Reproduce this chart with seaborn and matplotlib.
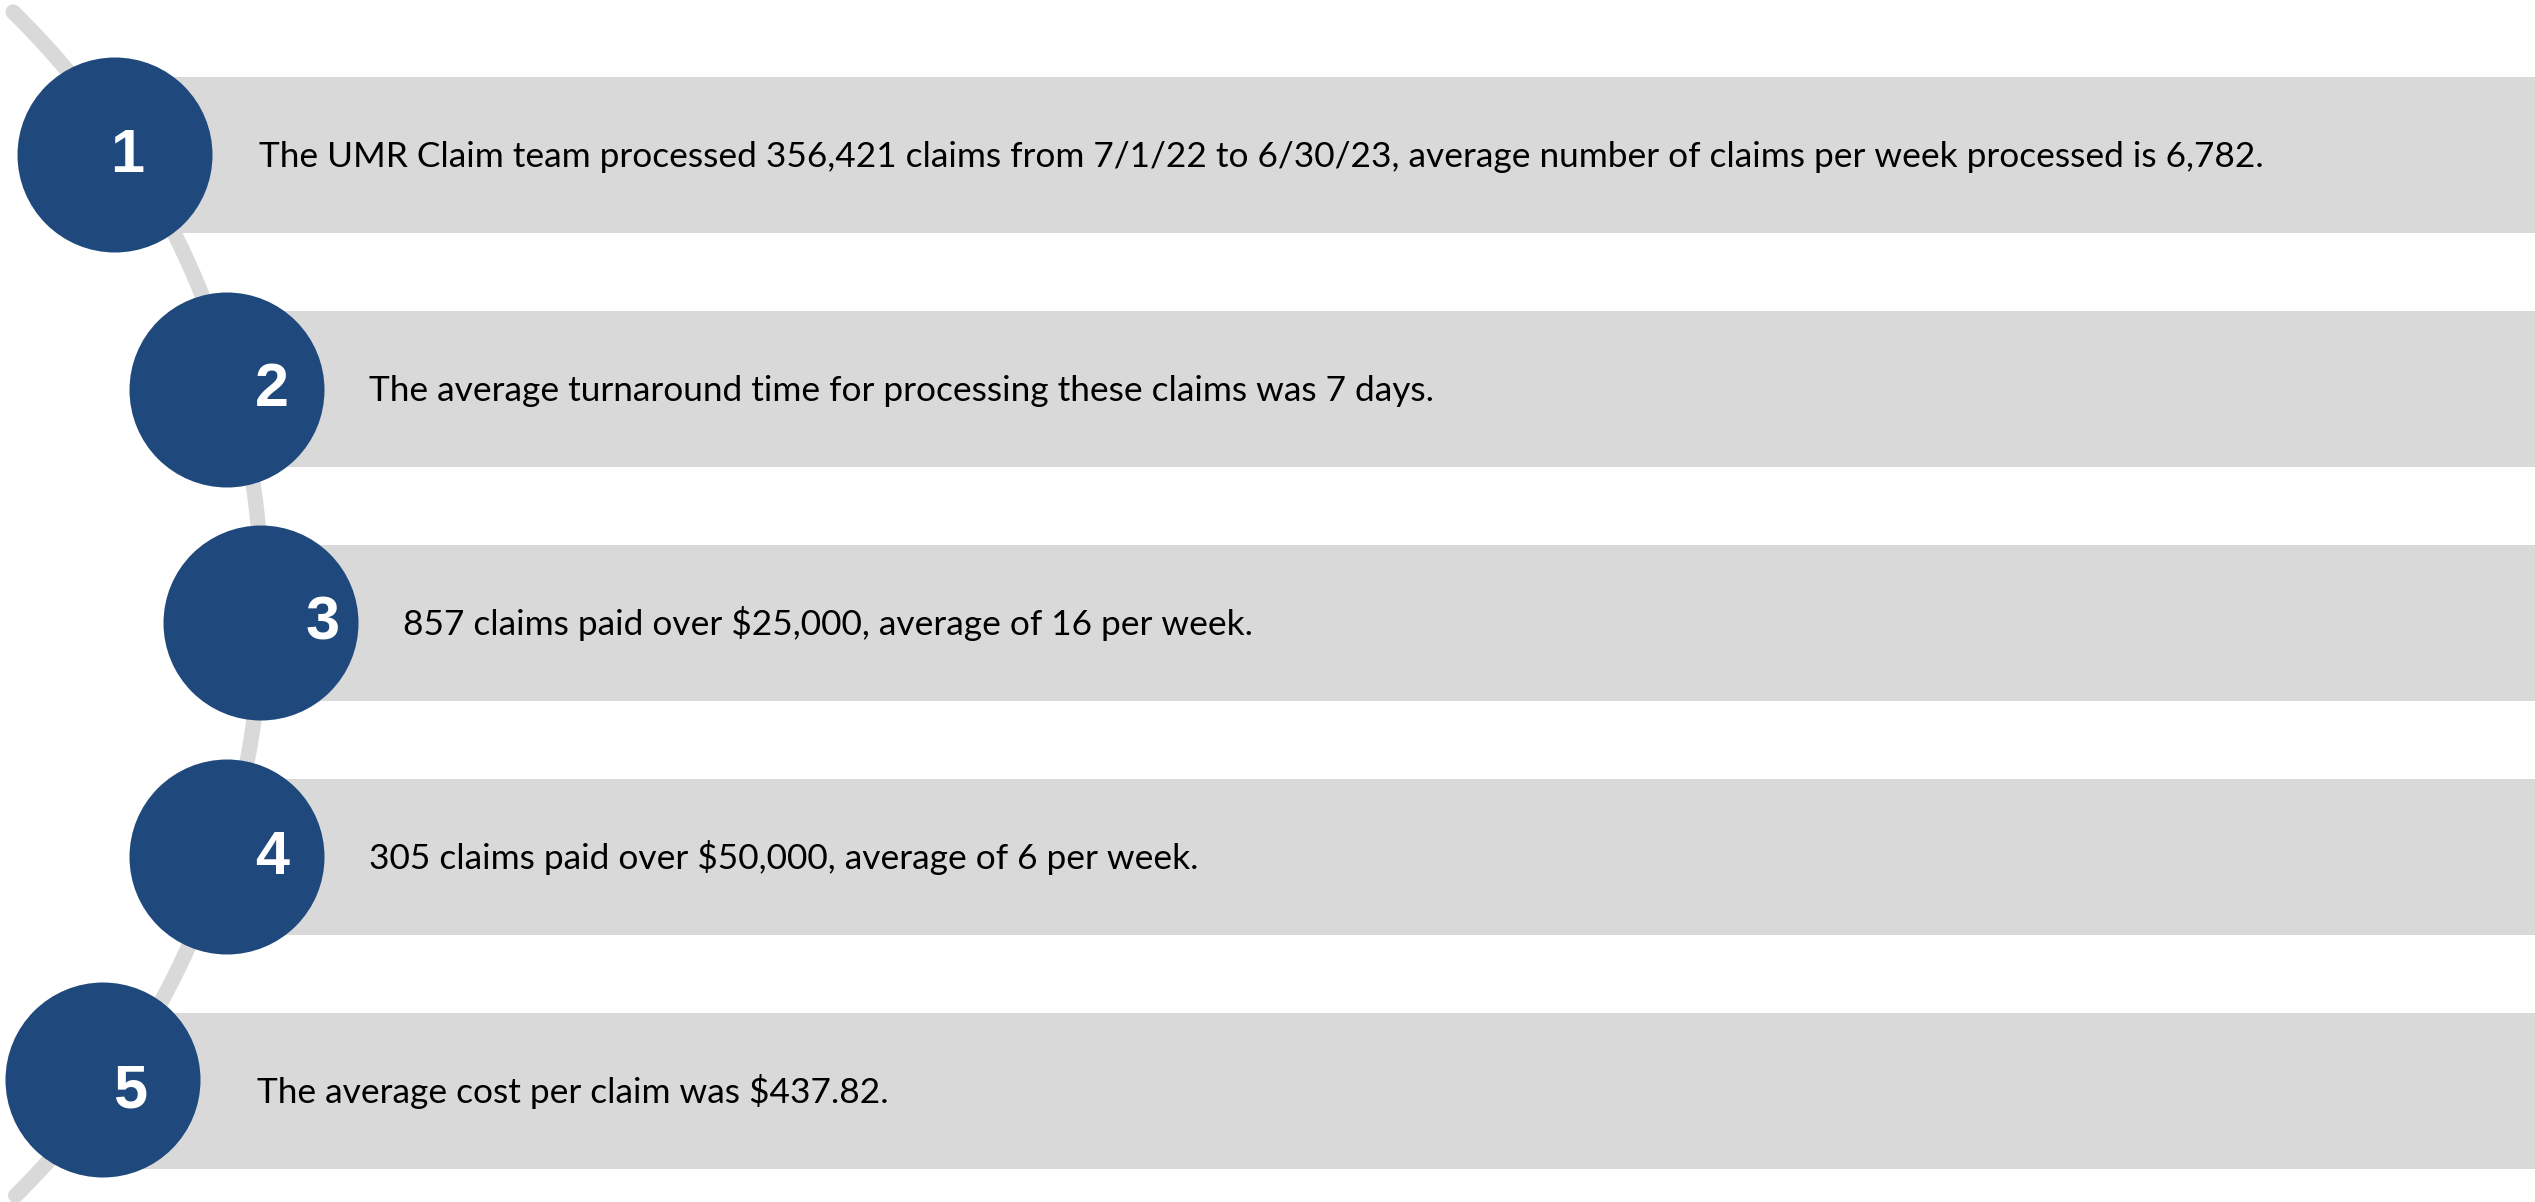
import matplotlib
matplotlib.use("Agg")
import matplotlib.pyplot as plt
from matplotlib.patches import Ellipse
import numpy as np
import pandas as pd
import seaborn as sns

# Steps and statements shown in the chart
steps = ["1", "2", "3", "4", "5"]
statements = [
    "The UMR Claim team processed 356,421 claims from 7/1/22 to 6/30/23, average number of claims per week processed is 6,782.",
    "The average turnaround time for processing these claims was 7 days.",
    "857 claims paid over $25,000, average of 16 per week.",
    "305 claims paid over $50,000, average of 6 per week.",
    "The average cost per claim was $437.82.",
]

# Layout, in pixels (one row = 234 px, first row centred at 155 px)
W, H = 2535, 1202
row_px = 234
top_px = 155
circle_x = [115, 227, 261, 227, 103]
circle_dy = [0, 1, 0, 0, -11]
number_x = [127, 272, 323, 272, 130]
text_x = [259, 369, 403, 369, 257]
circle_d = 195
bar_h = 156

navy = "#1F497D"
grey = "#D9D9D9"


def to_row(p):
    # pixel height -> row units used by the categorical axis
    return (p - top_px) / row_px


sns.set_style("white")
fig = plt.figure(figsize=(W / 100, H / 100), dpi=100)
ax = fig.add_axes([0, 0, 1, 1])

# background arc
theta = np.linspace(np.arctan2(12 - 605, 13 + 569), np.arctan2(1197 - 605, 17 + 569), 300)
arc_x = -569 + 831 * np.cos(theta)
arc_y = to_row(605 + 831 * np.sin(theta))
ax.plot(arc_x, arc_y, color=grey, lw=11, solid_capstyle="round", zorder=0)

# grey bars
df = pd.DataFrame({"step": steps, "length": [W - cx for cx in circle_x]})
sns.barplot(data=df, x="length", y="step", order=steps, orient="h",
            width=bar_h / row_px, color=grey, saturation=1, errorbar=None,
            left=circle_x, linewidth=0, ax=ax, zorder=1)

for i, step in enumerate(steps):
    ax.add_patch(Ellipse((circle_x[i], i + circle_dy[i] / row_px), circle_d,
                         circle_d / row_px, facecolor=navy, edgecolor="none", zorder=2))
    ax.text(number_x[i], i + 17 / row_px, step, ha="center", va="baseline",
            color="white", fontsize=44, fontweight="bold",
            family=["Liberation Sans", "DejaVu Sans"], zorder=3)
    ax.text(text_x[i], i + 12 / row_px, statements[i], ha="left", va="baseline",
            color="black", fontsize=25.4, family=["Lato", "DejaVu Sans"], zorder=3)

ax.set_xlim(0, W)
ax.set_ylim(to_row(H), to_row(0))
ax.axis("off")

fig.savefig("out.png", dpi=100, facecolor="white")
